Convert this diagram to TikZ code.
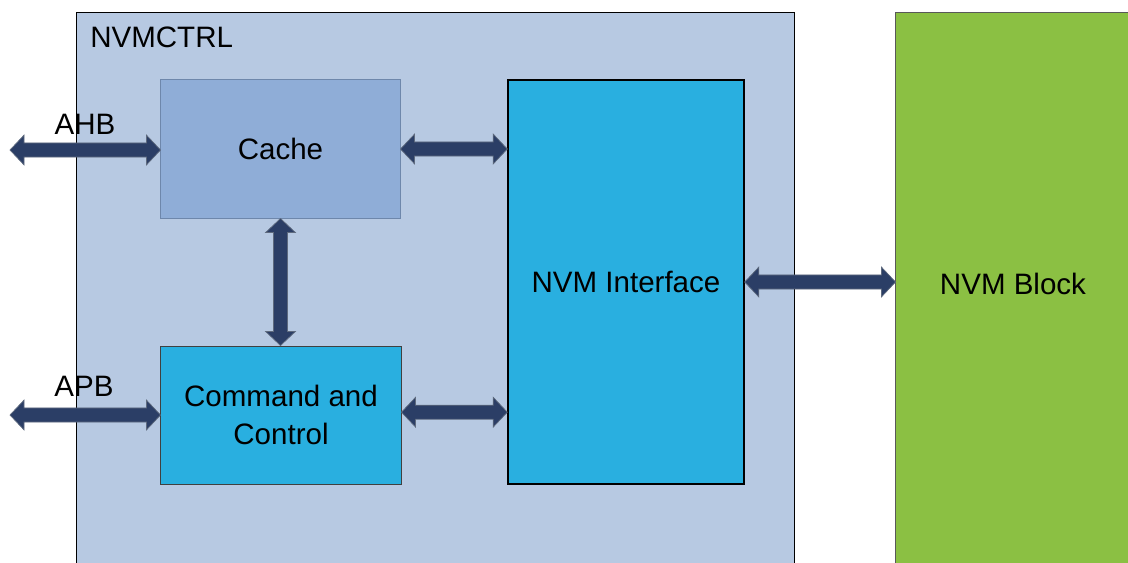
\documentclass[tikz,border=0pt]{standalone}
\usepackage{fontspec}
\setmainfont{Liberation Sans}
\usetikzlibrary{calc,positioning}

\definecolor{ctrlfill}{HTML}{B7C9E2}
\definecolor{cachefill}{HTML}{8FADD7}
\definecolor{cacheedge}{HTML}{6E87AB}
\definecolor{unitfill}{HTML}{29AFE0}
\definecolor{blockfill}{HTML}{8BC043}
\definecolor{linkfill}{HTML}{2B3E66}
\definecolor{linkedge}{HTML}{5E6A7E}

\tikzset{
  lbl/.style={font=\fontsize{21}{27}\selectfont, inner sep=0pt},
  unit/.style={draw, line width=0.7pt, inner sep=0pt, lbl},
  fatlink/.style={draw=linkedge, fill=linkfill, line width=0.5pt,
    to path={let \p1=(\tikztostart), \p2=(\tikztotarget),
      \n1={atan2(\y2-\y1,\x2-\x1)}, \n2={veclen(\x2-\x1,\y2-\y1)} in
      [shift={(\p1)}, rotate=\n1]
      (0pt,0pt) -- (10pt,10.6pt) -- (10pt,5pt) -- ({\n2-10pt},5pt)
      -- ({\n2-10pt},10.6pt) -- (\n2,0pt) -- ({\n2-10pt},-10.6pt)
      -- ({\n2-10pt},-5pt) -- (10pt,-5pt) -- (10pt,-10.6pt) -- cycle}}
}

\begin{document}
\begin{tikzpicture}[x=0.025cm, y=-0.025cm]
  \clip (0,0) rectangle (1128,562);

  \node[unit, fill=ctrlfill, minimum width=17.925cm, minimum height=15.175cm] (nvmctrl) at (435.5,316.5) {};
  \node[lbl, anchor=base west] (ctrltxt) at (90,47) {NVMCTRL};
  \node[unit, draw=black!65, fill=blockfill, minimum width=5.9cm, minimum height=15.175cm] (nvmblock) at (1014,316.5) {};
  \node[lbl] (blocktxt) at (1013,284) {NVM Block};

  \node[unit, draw=cacheedge, fill=cachefill, minimum width=5.975cm, minimum height=3.45cm] (cache) at (280.5,149) {Cache};
  \node[unit, draw=black!75, fill=unitfill, minimum width=6cm, minimum height=3.45cm, align=center] (cmd) at (281,415) {Command and\\Control};
  \node[unit, line width=1pt, fill=unitfill, minimum width=5.9cm, minimum height=10.1cm] (nvmif) at (626,282) {NVM Interface};

  \node[lbl] (ahb) at (85,124) {AHB};
  \node[lbl] (apb) at (84,386) {APB};
  \coordinate (ahbend) at (10,150);
  \coordinate (apbend) at (10,415);
  \coordinate (cmdport) at ([yshift=2pt]cmd.east);

  \draw[fatlink] (ahbend) to (ahbend -| cache.west);
  \draw[fatlink] (apbend) to (apbend -| cmd.west);
  \draw[fatlink] (cache.east) to (nvmif.west |- cache.east);
  \draw[fatlink] (cmdport) to (nvmif.west |- cmdport);
  \draw[fatlink] (cache.south) to (cache.south |- cmd.north);
  \draw[fatlink] (nvmif.east) to (nvmblock.west |- nvmif.east);
\end{tikzpicture}
\end{document}
